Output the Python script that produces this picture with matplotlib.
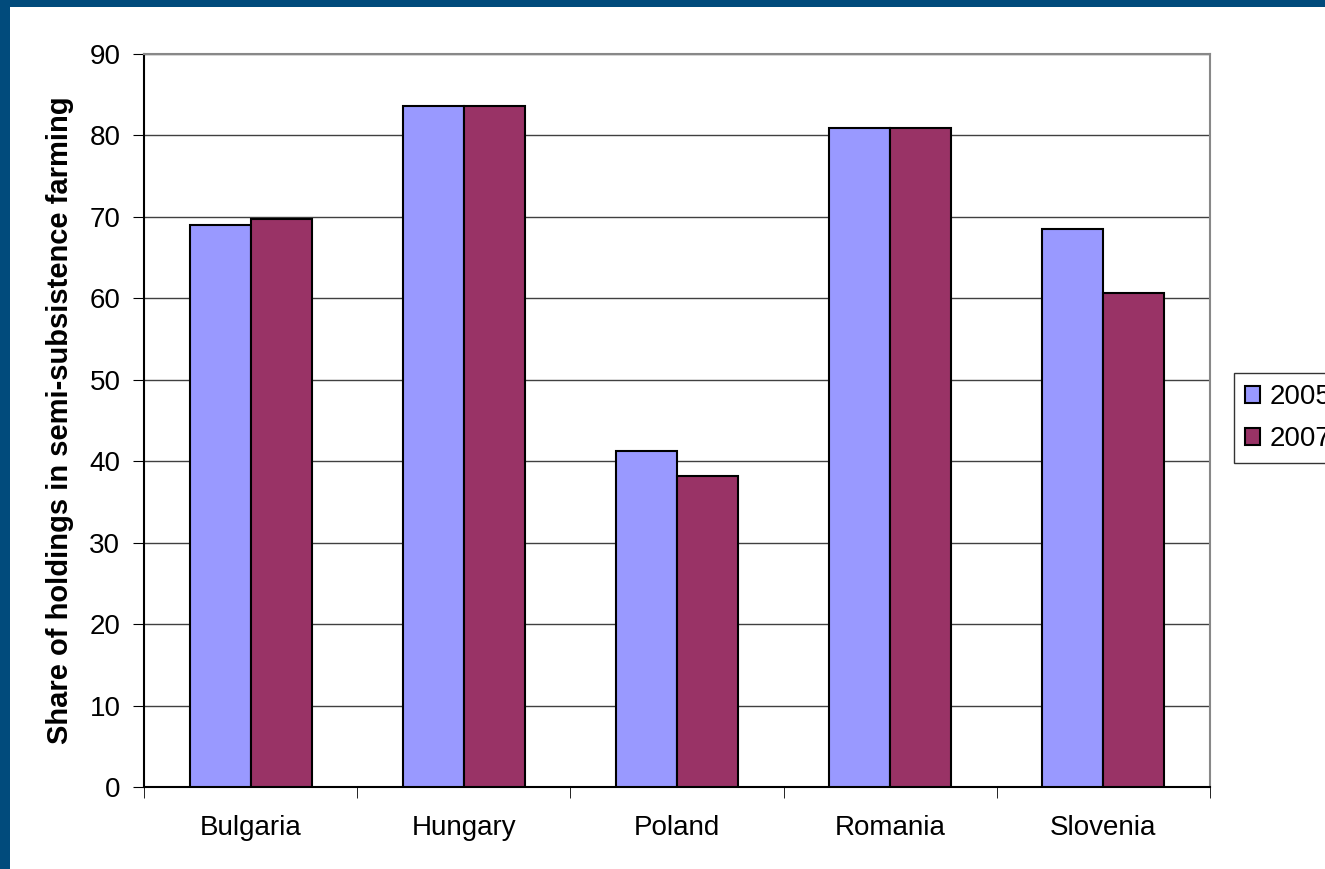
import numpy as np
import matplotlib.pyplot as plt
from matplotlib.patches import Rectangle

countries = ['Bulgaria', 'Hungary', 'Poland', 'Romania', 'Slovenia']
share_2005 = [69.0, 83.6, 41.2, 80.9, 68.5]
share_2007 = [69.8, 83.6, 38.2, 80.9, 60.6]
years = ['2005', '2007']

plt.rcParams['font.family'] = ['Liberation Sans', 'DejaVu Sans']

fig = plt.figure(figsize=(13.25, 8.69), dpi=100)
fig.patch.set_facecolor('#014b7c')
# white panel, leaving a blue strip on top and left
fig.patches.append(Rectangle((10 / 1325, 0), 1, 1 - 7 / 869, transform=fig.transFigure,
                             facecolor='white', edgecolor='none', zorder=-10))

ax = fig.add_axes([144 / 1325, 1 - 787 / 869, 1066 / 1325, 733 / 869])
ax.set_facecolor('white')

x = np.arange(len(countries))
w = 1 / 3.5
ax.bar(x - w / 2, share_2005, w, color='#9999ff', edgecolor='black', linewidth=1.5, label=years[0], zorder=3)
ax.bar(x + w / 2, share_2007, w, color='#993366', edgecolor='black', linewidth=1.5, label=years[1], zorder=3)

ax.set_xlim(-0.5, len(countries) - 0.5)
ax.set_ylim(0, 90)
ax.set_yticks(np.arange(0, 91, 10))
ax.yaxis.grid(True, color='#404040', linewidth=1, zorder=0)
ax.set_axisbelow(True)

ax.set_xticks(x)
ax.set_xticklabels(countries, fontsize=20)
ax.tick_params(axis='x', length=0, pad=20)
ax.set_xticks(np.arange(-0.5, len(countries), 1), minor=True)
ax.tick_params(axis='x', which='minor', length=8, direction='out', color='black')
ax.tick_params(axis='y', labelsize=20, length=8, direction='out', pad=9)

for side in ['top', 'right']:
    ax.spines[side].set_color('#888888')
    ax.spines[side].set_linewidth(1.5)
for side in ['left', 'bottom']:
    ax.spines[side].set_color('black')
    ax.spines[side].set_linewidth(1.5)

ax.set_ylabel('Share of holdings in semi-subsistence farming', fontsize=21, fontweight='bold', labelpad=11)

leg = fig.legend(loc='upper left', bbox_to_anchor=(1234 / 1325, 1 - 373 / 869), fontsize=20,
                 frameon=True, fancybox=False, edgecolor='black', handlelength=0.55, handleheight=0.55,
                 handletextpad=0.35, borderpad=0.4, labelspacing=0.58, borderaxespad=0)
leg.get_frame().set_linewidth(1)

plt.savefig('out.png', dpi=100, facecolor=fig.get_facecolor())
